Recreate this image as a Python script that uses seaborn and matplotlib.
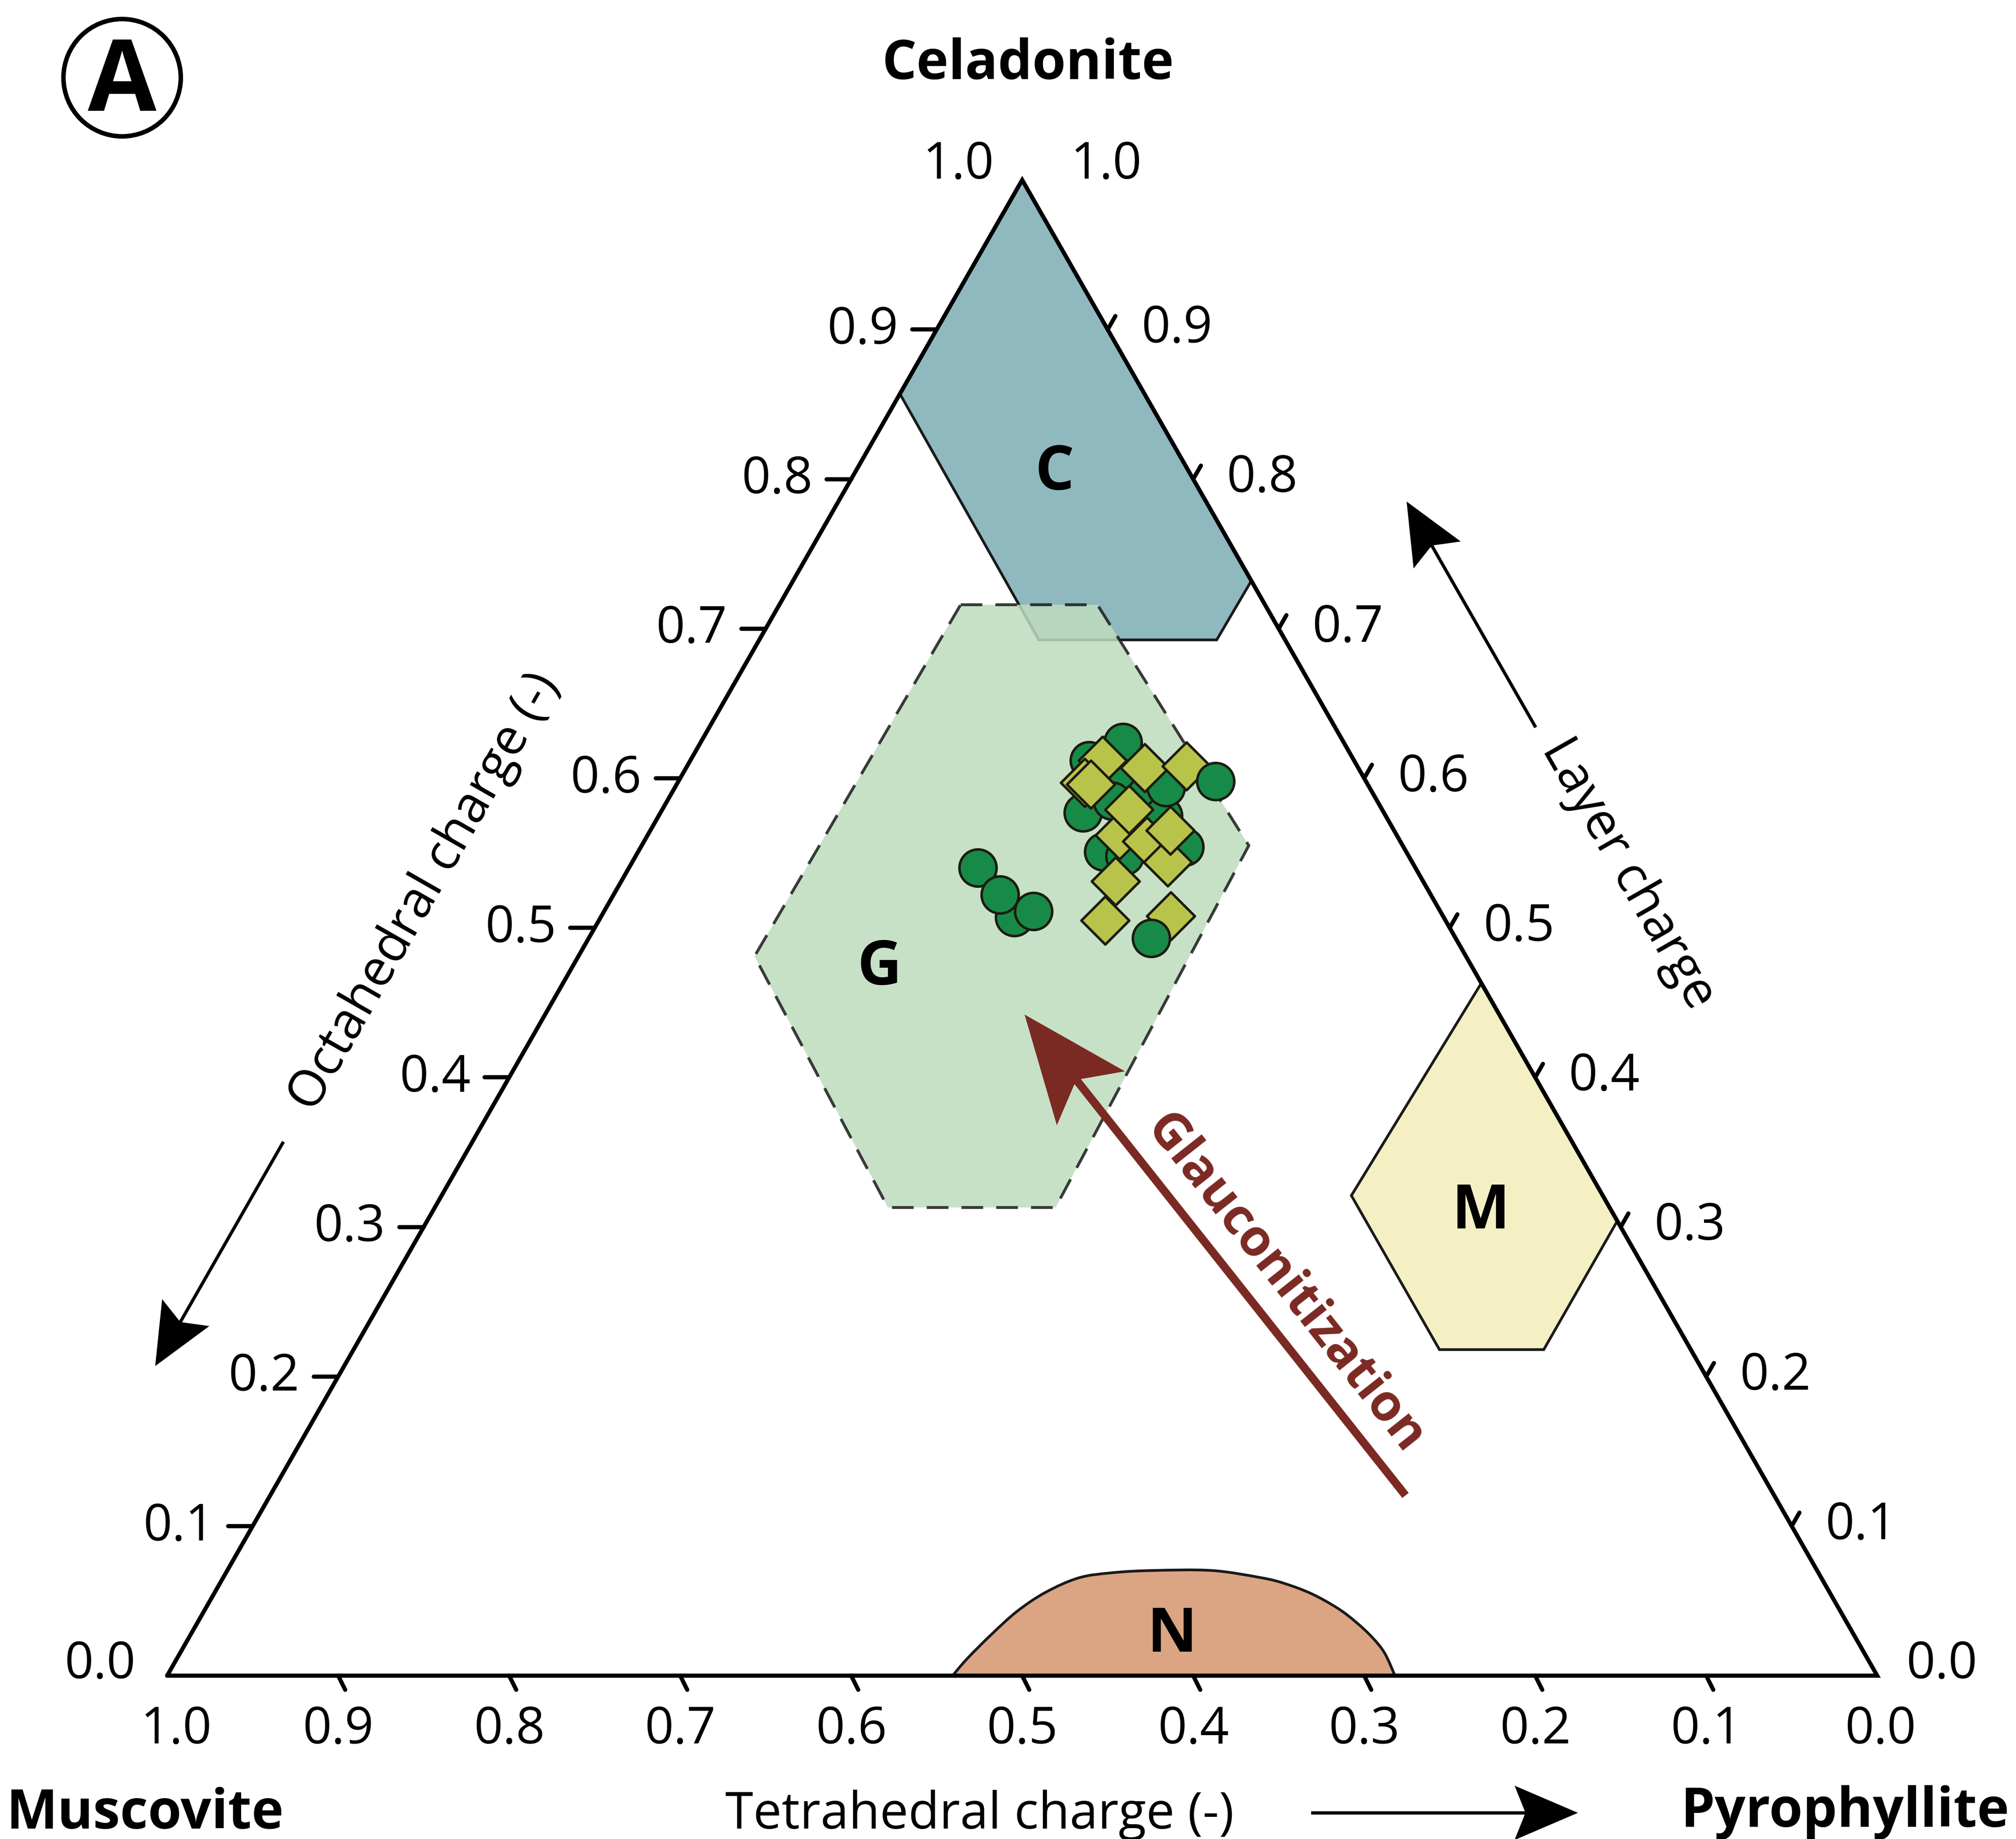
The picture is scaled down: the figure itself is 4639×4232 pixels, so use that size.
import matplotlib
matplotlib.use("Agg")
import matplotlib.pyplot as plt
import numpy as np
import pandas as pd
import seaborn as sns
from matplotlib.patches import Ellipse, PathPatch, Polygon
from matplotlib.path import Path
from matplotlib.transforms import Affine2D, ScaledTranslation

# every composition is (tetrahedral charge, octahedral charge); layer charge = sum
TICK_VALUES = [0.1, 0.2, 0.3, 0.4, 0.5, 0.6, 0.7, 0.8, 0.9]

C_FIELD_TET = [0.0, 0.143, 0.144, 0.040, 0.0]
C_FIELD_OCT = [1.0, 0.857, 0.6925, 0.6925, 0.732]
G_FIELD_TET = [0.178, 0.098, 0.090, 0.324, 0.422, 0.416]
G_FIELD_OCT = [0.716, 0.716, 0.555, 0.313, 0.313, 0.481]
M_FIELD_TET = [0.0, 0.0, 0.086, 0.147, 0.147]
M_FIELD_OCT = [0.463, 0.304, 0.218, 0.218, 0.321]
N_FIELD_TET = [0.5407, 0.5267, 0.5043, 0.4815, 0.4585, 0.4342, 0.4130, 0.3889, 0.3539,
               0.3272, 0.3155, 0.3033, 0.2930, 0.2870, 0.2825, 0.2805, 0.2820]
N_FIELD_OCT = [0.0, 0.0112, 0.0275, 0.0430, 0.0557, 0.0654, 0.0688, 0.0703, 0.0703,
               0.0654, 0.0615, 0.0547, 0.0451, 0.0360, 0.0256, 0.0150, 0.0]

FIELD_LABELS = ["C", "G", "M", "N"]
FIELD_LABEL_TET = [0.077, 0.345, 0.075, 0.397]
FIELD_LABEL_OCT = [0.808, 0.477, 0.314, 0.031]

# samples, listed in drawing order (last two circles sit above the diamonds)
CIRCLE_TET = [0.251, 0.256, 0.252, 0.238, 0.155, 0.176, 0.138, 0.155, 0.133, 0.130,
              0.177, 0.166, 0.119, 0.129, 0.128, 0.088, 0.178]
CIRCLE_OCT = [0.507, 0.540, 0.522, 0.511, 0.612, 0.577, 0.600, 0.585, 0.589, 0.575,
              0.551, 0.548, 0.594, 0.624, 0.554, 0.598, 0.493]
DIAMOND_TET = [0.147, 0.165, 0.162, 0.125, 0.100, 0.180, 0.199, 0.159, 0.162, 0.148,
               0.143, 0.148, 0.131]
DIAMOND_OCT = [0.612, 0.597, 0.596, 0.607, 0.608, 0.531, 0.505, 0.508, 0.562, 0.558,
               0.544, 0.579, 0.565]

# glauconitization trend (tail, head)
TREND_TET = [0.2156, 0.2776]
TREND_OCT = [0.1205, 0.4420]

PT = 72 / 300 * 4639 / 1568  # points per pixel of the 1568-wide preview
XLIM = (-130 / 1330, 1438 / 1330)
YLIM = (-127 / 1163, 1303 / 1163)


def cart(tet, octa):
    tet = np.asarray(tet, dtype=float)
    octa = np.asarray(octa, dtype=float)
    return np.array([1 - tet - octa / 2, octa])


def smooth_outline(x, y):
    # Catmull-Rom curve through the traced points, closed along the base
    pts = np.column_stack([x, y])
    ext = np.vstack([pts[0], pts, pts[-1]])
    verts, codes = [pts[0]], [Path.MOVETO]
    for i in range(1, len(ext) - 2):
        p0, p1, p2, p3 = ext[i - 1], ext[i], ext[i + 1], ext[i + 2]
        verts += [p1 + (p2 - p0) / 6, p2 - (p3 - p1) / 6, p2]
        codes += [Path.CURVE4] * 3
    verts.append(pts[0])
    codes.append(Path.CLOSEPOLY)
    return Path(verts, codes)


def draw_arrow(ax, start, end, color, lw, head_length, head_width, notch, zorder=7):
    p0 = ax.transData.transform(start)
    p1 = ax.transData.transform(end)
    d = (p1 - p0) / np.hypot(*(p1 - p0))
    k = ax.figure.dpi / 72.0
    shaft_end = ax.transData.inverted().transform(p1 - d * (head_length - notch - 2) * k)
    ax.plot([start[0], shaft_end[0]], [start[1], shaft_end[1]], color=color, lw=lw,
            solid_capstyle="butt", zorder=zorder)
    angle = np.degrees(np.arctan2(d[1], d[0]))
    verts = [(0, 0), (-head_length, head_width / 2), (-(head_length - notch), 0),
             (-head_length, -head_width / 2)]
    tr = Affine2D().scale(k).rotate_deg(angle) + ScaledTranslation(end[0], end[1], ax.transData)
    ax.add_patch(Polygon(verts, closed=True, facecolor=color, edgecolor="none",
                         transform=tr, zorder=zorder))
    return angle


sns.set_theme(style="white")
plt.rcParams["font.family"] = ["Open Sans", "DejaVu Sans"]
plt.rcParams["text.color"] = "black"

fig = plt.figure(figsize=(4639.2 / 300, 4232.2 / 300), dpi=300)
ax = fig.add_axes([0, 0, 1, 1])
ax.set_xlim(*XLIM)
ax.set_ylim(*YLIM)
ax.axis("off")

# compositional fields
edge = "#1a1a1a"
x, y = cart(C_FIELD_TET, C_FIELD_OCT)
ax.add_patch(Polygon(np.column_stack([x, y]), closed=True, facecolor="#8fb9bf",
                     edgecolor=edge, lw=1.5, zorder=1))
x, y = cart(G_FIELD_TET, G_FIELD_OCT)
ax.add_patch(Polygon(np.column_stack([x, y]), closed=True, facecolor="#bedcbe", alpha=0.85,
                     edgecolor=edge, lw=1.6, linestyle=(0, (7.5, 4.5)), zorder=2))
x, y = cart(M_FIELD_TET, M_FIELD_OCT)
ax.add_patch(Polygon(np.column_stack([x, y]), closed=True, facecolor="#f4f0c4",
                     edgecolor=edge, lw=1.5, zorder=2))
x, y = cart(N_FIELD_TET, N_FIELD_OCT)
ax.add_patch(PathPatch(smooth_outline(x, y), facecolor="#dba584", edgecolor=edge,
                       lw=1.5, zorder=2))

for label, tet, octa in zip(FIELD_LABELS, FIELD_LABEL_TET, FIELD_LABEL_OCT):
    ax.annotate(label, cart(tet, octa), xytext=(0, -17.5 * PT), textcoords="offset points",
                ha="center", va="baseline", fontsize=34, fontweight="bold", zorder=8)

# triangle frame
vx, vy = cart([1, 0, 0, 1], [0, 0, 1, 0])
ax.plot(vx, vy, color="black", lw=2.3, solid_joinstyle="miter", zorder=4)

# ticks and tick labels
for v in TICK_VALUES:
    # octahedral charge (left side, horizontal ticks)
    x0, y0 = cart(1 - v, v)
    ax.plot([x0, x0 - 19 / 1330], [y0, y0], color="black", lw=2.3, zorder=4)
    ax.annotate(f"{v:.1f}", (x0, y0), xytext=(-30 * PT, -11 * PT), textcoords="offset points",
                ha="right", va="baseline", fontsize=28)
    # layer charge (right side, ticks parallel to the left side)
    x1, y1 = cart(0, v)
    ax.plot([x1, x1 + 6 / 1330], [y1, y1 + 10.5 / 1163], color="black", lw=2.3, zorder=4)
    ax.annotate(f"{v:.1f}", (x1, y1), xytext=(26 * PT, -10 * PT), textcoords="offset points",
                ha="left", va="baseline", fontsize=28)
    # tetrahedral charge (bottom, ticks parallel to the right side)
    x2, y2 = cart(v, 0)
    ax.plot([x2, x2 + 5.5 / 1330], [y2, y2 - 11 / 1163], color="black", lw=2.3, zorder=4)
    ax.annotate(f"{v:.1f}", (x2, y2), xytext=(0, -52.5 * PT), textcoords="offset points",
                ha="center", va="baseline", fontsize=28)

# end labels at the vertices
top, left, right = cart(0, 1), cart(1, 0), cart(0, 0)
for xy, dx, dy, ha in [(top, -22, 1, "right"), (top, 37.5, 1, "left")]:
    ax.annotate("1.0", xy, xytext=(dx * PT, dy * PT), textcoords="offset points",
                ha=ha, va="baseline", fontsize=28)
ax.annotate("0.0", left, xytext=(-24.5 * PT, -2 * PT), textcoords="offset points",
            ha="right", va="baseline", fontsize=28)
ax.annotate("0.0", right, xytext=(22.5 * PT, -2 * PT), textcoords="offset points",
            ha="left", va="baseline", fontsize=28)
ax.annotate("1.0", left, xytext=(7 * PT, -52.5 * PT), textcoords="offset points",
            ha="center", va="baseline", fontsize=28)
ax.annotate("0.0", right, xytext=(2.5 * PT, -52.5 * PT), textcoords="offset points",
            ha="center", va="baseline", fontsize=28)

ax.annotate("Celadonite", top, xytext=(4.7 * PT, 78.6 * PT), textcoords="offset points",
            ha="center", va="baseline", fontsize=30, fontweight="bold")
ax.annotate("Muscovite", left, xytext=(-17 * PT, -119 * PT), textcoords="offset points",
            ha="center", va="baseline", fontsize=30, fontweight="bold")
ax.annotate("Pyrophyllite", right, xytext=(-25 * PT, -117.5 * PT), textcoords="offset points",
            ha="center", va="baseline", fontsize=30, fontweight="bold")


# axis titles and direction arrows
def display_angle(a, b):
    pa, pb = ax.transData.transform(a), ax.transData.transform(b)
    return np.degrees(np.arctan2(pb[1] - pa[1], pb[0] - pa[0]))


left_angle = display_angle(left, top)
right_angle = display_angle(top, right)
below = np.array([0, -0.0917])
left_shift = np.array([-0.1105, 0])
right_shift = np.array([0.1173, 0])

ax.annotate("Tetrahedral charge (-)", cart(0.525, 0), xytext=(0, -119 * PT),
            textcoords="offset points", ha="center", va="baseline", fontsize=28)
draw_arrow(ax, cart(0.331, 0) + below, cart(0.175, 0) + below, "black", 1.8, 35, 30, 6)

ax.annotate("Octahedral charge (-)", cart(1 - 0.524, 0.524), xytext=(-148 * PT, 0),
            textcoords="offset points", ha="center", va="center", fontsize=28,
            rotation=left_angle, rotation_mode="anchor")
draw_arrow(ax, cart(1 - 0.357, 0.357) + left_shift, cart(1 - 0.207, 0.207) + left_shift,
           "black", 1.8, 34, 30, 6)

ax.annotate("Layer charge", cart(0, 0.536), xytext=(163 * PT, 0),
            textcoords="offset points", ha="center", va="center", fontsize=28,
            rotation=right_angle, rotation_mode="anchor")
draw_arrow(ax, cart(0, 0.634) + right_shift, cart(0, 0.785) + right_shift,
           "black", 1.8, 34, 30, 6)

# glauconitization trend
tx, ty = cart(TREND_TET, TREND_OCT)
trend_angle = draw_arrow(ax, (tx[0], ty[0]), (tx[1], ty[1]), "#7b2a23", 4.5, 59, 48, 13)
ax.annotate("Glauconitization", ((tx[0] + tx[1]) / 2, (ty[0] + ty[1]) / 2),
            xytext=(54 * PT, -22.6 * PT), textcoords="offset points", ha="center",
            va="center", fontsize=28, fontweight="bold", color="#7b2a23",
            rotation=trend_angle - 180, rotation_mode="anchor")

# samples
cx, cy = cart(CIRCLE_TET, CIRCLE_OCT)
dx, dy = cart(DIAMOND_TET, DIAMOND_OCT)
circles = pd.DataFrame({"x": cx, "y": cy})
diamonds = pd.DataFrame({"x": dx, "y": dy})
marker_kw = dict(x="x", y="y", edgecolor="#1d1b12", linewidth=1.4, legend=False, zorder=6, ax=ax)
sns.scatterplot(data=circles.iloc[:-2], color="#178a47", marker="o", s=420, **marker_kw)
sns.scatterplot(data=diamonds, color="#b8c449", marker="D", s=350, **marker_kw)
sns.scatterplot(data=circles.iloc[-2:], color="#178a47", marker="o", s=420, **marker_kw)
ax.set_xlim(*XLIM)
ax.set_ylim(*YLIM)
ax.axis("off")

# panel letter
fig.add_artist(Ellipse((281 / 4639, 1 - 179 / 4232), 270 / 4639, 270 / 4232,
                       transform=fig.transFigure, facecolor="none", edgecolor="black", lw=2.5))
fig.text(281 / 4639, 1 - 255 / 4232, "A", ha="center", va="baseline", fontsize=55,
         fontweight="bold")

fig.savefig("out.png", dpi=300)
